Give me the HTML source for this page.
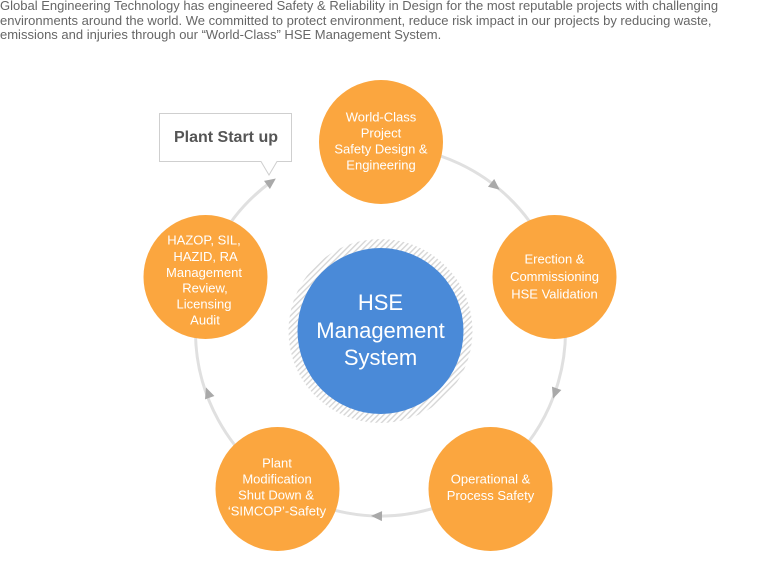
<!DOCTYPE html>
<html>
<head>
<meta charset="utf-8">
<style>
  html, body { margin: 0; padding: 0; background: #fff; }
  body { width: 760px; height: 568px; position: relative; overflow: hidden; font-family: "Liberation Sans", Arial, sans-serif; }
  .intro { position: absolute; left: 0; top: -1px; font-size: 13px; line-height: 14.5px; color: #666; white-space: nowrap; }
  svg { position: absolute; left: 0; top: 0; }
  svg text { font-family: "Liberation Sans", Arial, sans-serif; }
</style>
</head>
<body>
<div class="intro">Global Engineering Technology has engineered Safety &amp; Reliability in Design for the most reputable projects with challenging<br>environments around the world. We committed to protect environment, reduce risk impact in our projects by reducing waste,<br>emissions and injuries through our “World-Class” HSE Management System.</div>
<svg width="760" height="568" viewBox="0 0 760 568">
  <defs>
    <pattern id="h" width="4" height="4" patternUnits="userSpaceOnUse" patternTransform="rotate(45)">
      <rect width="1.4" height="4" fill="#d6d6d6"/>
    </pattern>
  </defs>
  <!-- ring -->
  <path d="M380,146 A185,185 0 1 1 271.5,181.5" fill="none" stroke="#e0e0e0" stroke-width="3"/>
  <!-- arrowheads -->
  <g fill="#a9a9a9">
    <polygon points="6,0 -5,-5 -5,5" transform="translate(495,186) rotate(38.6)"/>
    <polygon points="6,0 -5,-5 -5,5" transform="translate(555,393) rotate(109.5)"/>
    <polygon points="6,0 -5,-5 -5,5" transform="translate(377,516) rotate(181)"/>
    <polygon points="6,0 -5,-5 -5,5" transform="translate(208,393) rotate(250)"/>
    <polygon points="6,0 -5,-5 -5,5" transform="translate(271,182) rotate(-36)"/>
  </g>
  <!-- callout -->
  <path d="M159.5,113.5 H291.5 V161.5 H277 L269,175 L261,161.5 H159.5 Z" fill="#fff" stroke="#cfcfcf" stroke-width="1"/>
  <text x="226" y="142" text-anchor="middle" font-size="16" font-weight="bold" fill="#555">Plant Start up</text>

  <!-- center -->
  <circle cx="380.5" cy="331" r="92" fill="url(#h)"/>
  <circle cx="380.5" cy="331" r="83" fill="#4a8ad8"/>
  <g fill="#fff" font-size="22" text-anchor="middle">
    <text x="380.5" y="310">HSE</text>
    <text x="380.5" y="338">Management</text>
    <text x="380.5" y="365">System</text>
  </g>

  <!-- orange circles -->
  <g fill="#fba63f">
    <circle cx="381" cy="142" r="62"/>
    <circle cx="554.5" cy="277" r="62"/>
    <circle cx="205.5" cy="277" r="62"/>
    <circle cx="277.5" cy="489" r="62"/>
    <circle cx="490.5" cy="489" r="62"/>
  </g>
  <g fill="#fff" font-size="13" text-anchor="middle">
    <text x="381" y="121.5">World-Class</text>
    <text x="381" y="137.5">Project</text>
    <text x="381" y="153.5">Safety Design &amp;</text>
    <text x="381" y="169.5">Engineering</text>

    <text x="554.5" y="263.5">Erection &amp;</text>
    <text x="554.5" y="281">Commissioning</text>
    <text x="554.5" y="298.5">HSE Validation</text>

    <text x="204" y="244.5">HAZOP, SIL,</text>
    <text x="205.5" y="261">HAZID, RA</text>
    <text x="204" y="277">Management</text>
    <text x="205" y="292.5">Review,</text>
    <text x="204" y="308.5">Licensing</text>
    <text x="205" y="324.5">Audit</text>

    <text x="277" y="467.5">Plant</text>
    <text x="277" y="483.5">Modification</text>
    <text x="276" y="499.5">Shut Down &amp;</text>
    <text x="277" y="515.5">‘SIMCOP’-Safety</text>

    <text x="490.5" y="483.5">Operational &amp;</text>
    <text x="490.5" y="500">Process Safety</text>
  </g>
</svg>
</body>
</html>
